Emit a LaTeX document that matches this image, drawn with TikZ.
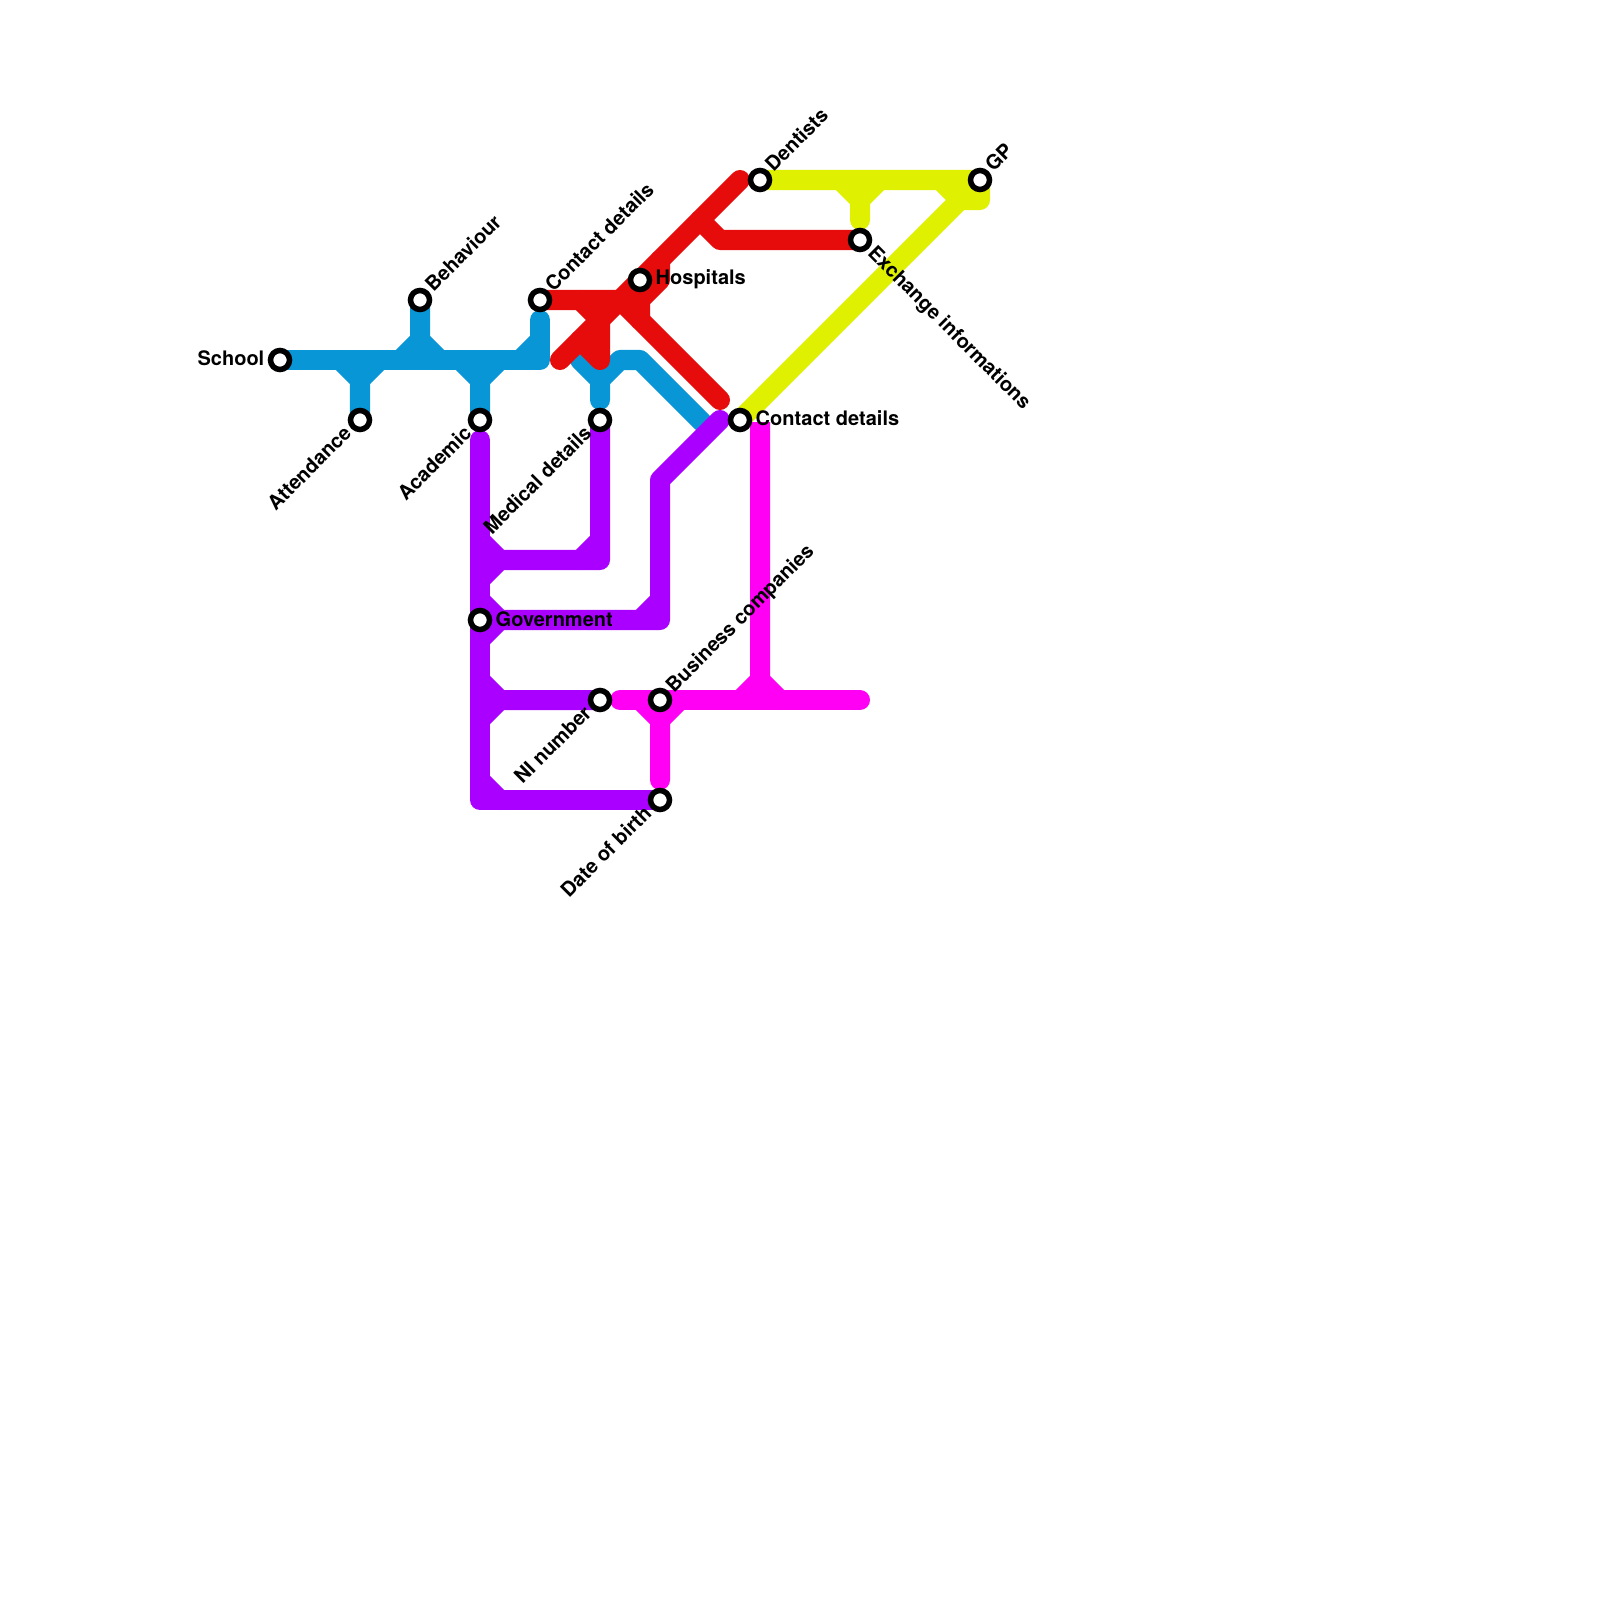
\documentclass[tikz,border=0pt]{standalone}
\usepackage{fontspec}
\setmainfont{TeX Gyre Heros}
\usetikzlibrary{positioning}
\definecolor{LineBlue}{RGB}{9,150,215}
\definecolor{LineRed}{RGB}{230,12,12}
\definecolor{LinePurple}{RGB}{170,0,255}
\definecolor{LineMagenta}{RGB}{255,0,245}
\definecolor{LineYellow}{RGB}{223,240,0}
\tikzset{
  metroline/.style={line width=0.2cm, line cap=round, line join=round},
  stationdot/.style={circle, draw=black, fill=white, line width=0.055cm, minimum size=0.19cm, inner sep=0pt},
  stationname/.style={font=\fontsize{5.69pt}{6.8pt}\selectfont\bfseries, inner sep=0pt, text=black}
}

\begin{document}
\begin{tikzpicture}[x=0.01cm, y=-0.01cm]
  \useasboundingbox (0,0) rectangle (1600,1600);
  % stations
  \coordinate (school) at (280,360);
  \coordinate (attendance) at (360,420);
  \coordinate (behaviour) at (420,300);
  \coordinate (academic) at (480,420);
  \coordinate (contactA) at (540,300);
  \coordinate (medical) at (600,420);
  \coordinate (hospitals) at (640,280);
  \coordinate (contactB) at (740,420);
  \coordinate (dentists) at (760,180);
  \coordinate (exchange) at (860,240);
  \coordinate (gp) at (980,180);
  \coordinate (government) at (480,620);
  \coordinate (ninumber) at (600,700);
  \coordinate (business) at (660,700);
  \coordinate (birth) at (660,800);

  % blue
  \draw[metroline, LineBlue] (school) -- (540,360) -- (540,320);
  \draw[metroline, LineBlue] (attendance) -- (360,380) -- (340,360);
  \draw[metroline, LineBlue] (360,380) -- (380,360);
  \draw[metroline, LineBlue] (behaviour) -- (420,340) -- (400,360);
  \draw[metroline, LineBlue] (420,340) -- (440,360);
  \draw[metroline, LineBlue] (academic) -- (480,380) -- (460,360);
  \draw[metroline, LineBlue] (480,380) -- (500,360);
  \draw[metroline, LineBlue] (540,340) -- (520,360);
  \draw[metroline, LineBlue] (580,360) -- (600,380) -- (600,400);
  \draw[metroline, LineBlue] (600,380) -- (620,360) -- (640,360) -- (702,422);

  % red
  \draw[metroline, LineRed] (560,360) -- (740,180);
  \draw[metroline, LineRed] (contactA) -- (620,300) -- (720,400);
  \draw[metroline, LineRed] (660,260) -- (660,280) -- (640,300) -- (640,320);
  \draw[metroline, LineRed] (580,300) -- (600,320) -- (600,360) -- (580,340);
  \draw[metroline, LineRed] (700,220) -- (720,240) -- (exchange);

  % yellow
  \draw[metroline, LineYellow] (dentists) -- (gp) -- (980,200) -- (960,200) -- (contactB);
  \draw[metroline, LineYellow] (940,180) -- (960,200);
  \draw[metroline, LineYellow] (860,220) -- (860,200) -- (840,180);
  \draw[metroline, LineYellow] (860,200) -- (880,180);

  % purple
  \draw[metroline, LinePurple] (480,440) -- (480,800) -- (birth);
  \draw[metroline, LinePurple] (480,780) -- (500,800);
  \draw[metroline, LinePurple] (medical) -- (600,560) -- (500,560) -- (480,580);
  \draw[metroline, LinePurple] (500,560) -- (480,540);
  \draw[metroline, LinePurple] (600,540) -- (580,560);
  \draw[metroline, LinePurple] (720,420) -- (660,480) -- (660,620) -- (500,620) -- (480,640);
  \draw[metroline, LinePurple] (500,620) -- (480,600);
  \draw[metroline, LinePurple] (660,600) -- (640,620);
  \draw[metroline, LinePurple] (ninumber) -- (500,700) -- (480,680);
  \draw[metroline, LinePurple] (500,700) -- (480,720);

  % magenta
  \draw[metroline, LineMagenta] (620,700) -- (860,700);
  \draw[metroline, LineMagenta, line cap=butt] (760,422) -- (760,680) -- (740,700);
  \draw[metroline, LineMagenta] (760,680) -- (780,700);
  \draw[metroline, LineMagenta] (660,780) -- (660,720) -- (640,700);
  \draw[metroline, LineMagenta] (660,720) -- (680,700);

  \node[stationdot] (schooldot) at (school) {};
  \node[stationdot] (attendancedot) at (attendance) {};
  \node[stationdot] (behaviourdot) at (behaviour) {};
  \node[stationdot] (academicdot) at (academic) {};
  \node[stationdot] (contactAdot) at (contactA) {};
  \node[stationdot] (medicaldot) at (medical) {};
  \node[stationdot] (hospitalsdot) at (hospitals) {};
  \node[stationdot] (contactBdot) at (contactB) {};
  \node[stationdot] (dentistsdot) at (dentists) {};
  \node[stationdot] (exchangedot) at (exchange) {};
  \node[stationdot] (gpdot) at (gp) {};
  \node[stationdot] (governmentdot) at (government) {};
  \node[stationdot] (ninumberdot) at (ninumber) {};
  \node[stationdot] (businessdot) at (business) {};
  \node[stationdot] (birthdot) at (birth) {};

  \node[stationname, anchor=east] (schoolname) at (265,358) {School};
  \node[stationname, anchor=east, rotate=45] (attendancename) at (348,429) {Attendance};
  \node[stationname, anchor=west, rotate=45] (behaviourname) at (428,288) {Behaviour};
  \node[stationname, anchor=east, rotate=45] (academicname) at (468,429) {Academic};
  \node[stationname, anchor=west, rotate=45] (contactAname) at (548,288) {Contact details};
  \node[stationname, anchor=east, rotate=45] (medicalname) at (588,429) {Medical details};
  \node[stationname, anchor=west] (hospitalsname) at (655,279) {Hospitals};
  \node[stationname, anchor=west] (contactBname) at (755,418) {Contact details};
  \node[stationname, anchor=west, rotate=45] (dentistsname) at (768,168) {Dentists};
  \node[stationname, anchor=west, rotate=-45] (exchangename) at (870,250) {Exchange informations};
  \node[stationname, anchor=west, rotate=45] (gpname) at (988,168) {GP};
  \node[stationname, anchor=west] (governmentname) at (495,619) {Government};
  \node[stationname, anchor=east, rotate=45] (ninumbername) at (588,709) {NI number};
  \node[stationname, anchor=west, rotate=45] (businessname) at (670,690) {Business companies};
  \node[stationname, anchor=east, rotate=45] (birthname) at (648,809) {Date of birth};
\end{tikzpicture}
\end{document}
